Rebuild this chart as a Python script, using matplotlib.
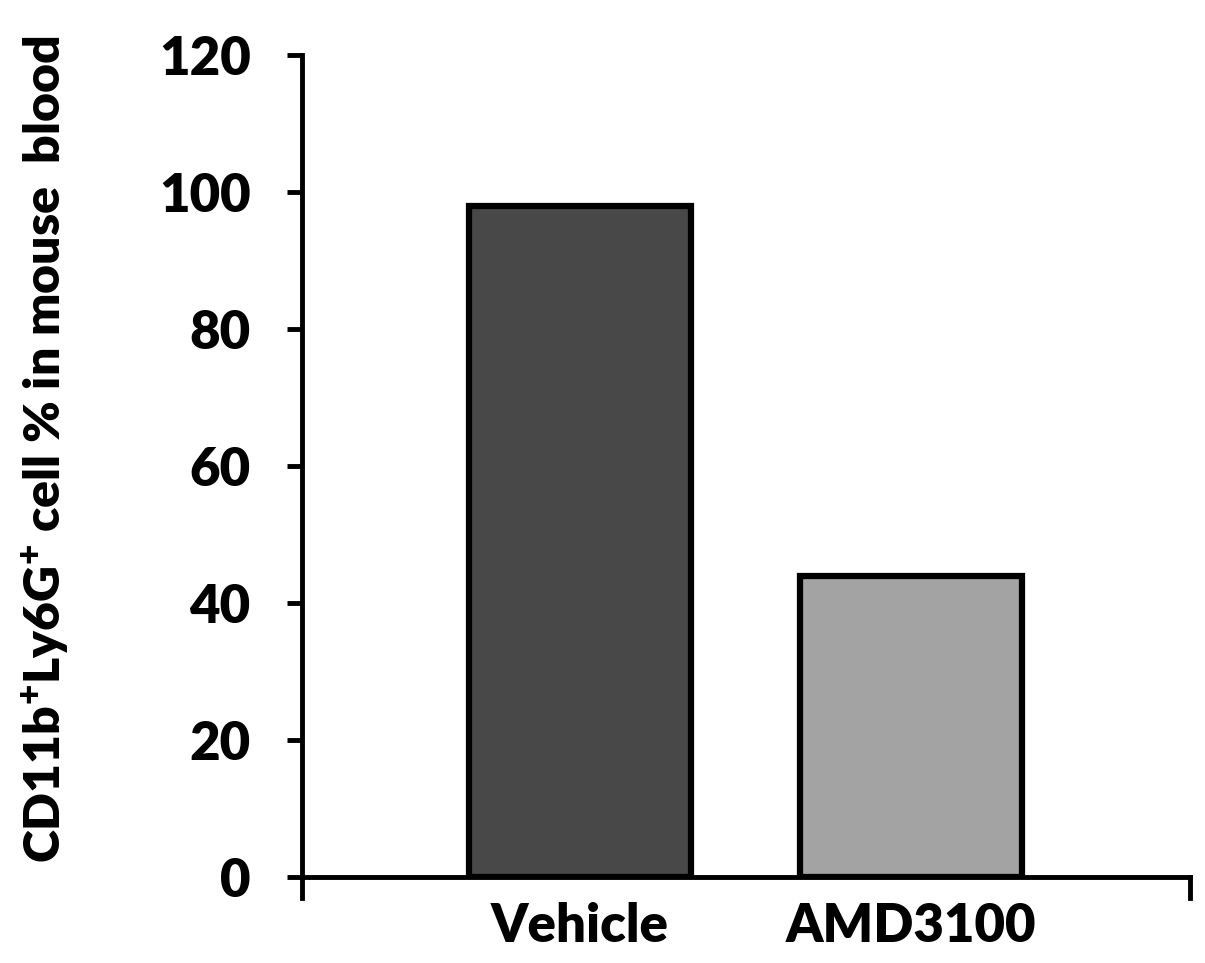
import matplotlib
matplotlib.use("Agg")
import matplotlib.pyplot as plt

groups = ["Vehicle", "AMD3100"]
values = [98, 44]
colors = ["#484848", "#a3a3a3"]
yticks = [0, 20, 40, 60, 80, 100, 120]

W = 'heavy'
plt.rcParams['font.family'] = ['Lato', 'DejaVu Sans']
plt.rcParams['font.weight'] = W
plt.rcParams['mathtext.fontset'] = 'custom'
plt.rcParams['mathtext.rm'] = 'Lato:heavy'
plt.rcParams['mathtext.it'] = 'Lato:heavy'
plt.rcParams['mathtext.bf'] = 'Lato:heavy'

fig = plt.figure(figsize=(12.05, 9.63), dpi=100)
ax = fig.add_axes([0.2506, 0.0893, 0.737, 0.8536])

x = range(len(groups))
ax.bar(x, values, width=0.668, color=colors, edgecolor='black', linewidth=4.5, zorder=3)

ax.set_xlim(-0.84, 1.843)
ax.set_ylim(0, 120)
ax.set_yticks(yticks)
ax.set_xticks(list(x))
ax.set_xticklabels(groups, fontsize=38, fontweight=W)
ax.set_yticklabels([str(v) for v in yticks], fontsize=38, fontweight=W)

for s in ['top', 'right']:
    ax.spines[s].set_visible(False)
for s in ['left', 'bottom']:
    ax.spines[s].set_linewidth(3.5)

ax.tick_params(axis='y', length=11, width=3.5, pad=26)
ax.tick_params(axis='x', length=0, pad=18)
# edge ticks on the category axis
for xe in ax.get_xlim():
    ax.plot([xe, xe], [0, -3], color='black', lw=3.5, clip_on=False, zorder=4)

ax.set_ylabel('CD11b$^{+}$Ly6G$^{+}$ cell % in mouse  blood', fontsize=36,
              fontweight=W)
ax.yaxis.set_label_coords(-0.26, 0.52)

fig.savefig('out.png', dpi=100)
